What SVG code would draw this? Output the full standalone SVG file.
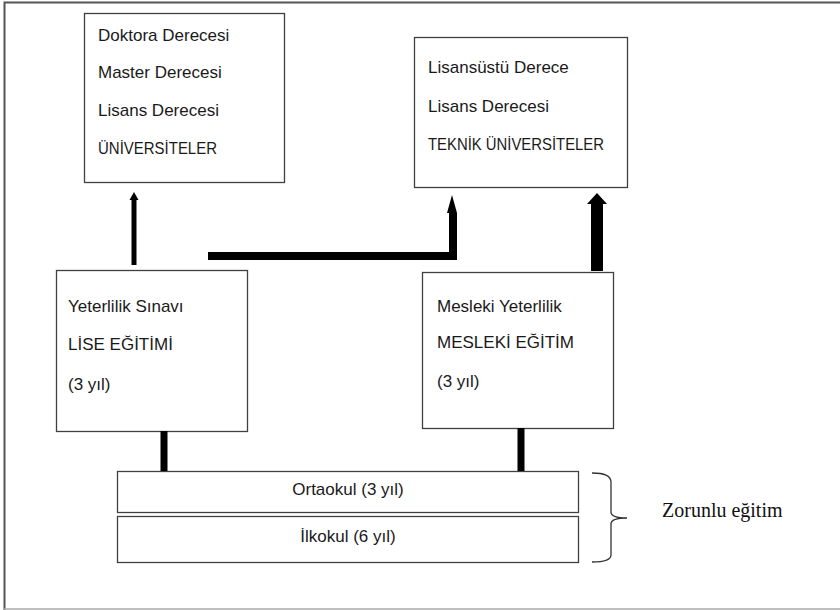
<svg xmlns="http://www.w3.org/2000/svg" width="840" height="610" viewBox="0 0 840 610">
<style>
.box{fill:#fff;stroke:#404040;stroke-width:1.3}
.t{font-family:"Liberation Sans",Arial,sans-serif;font-size:17px;fill:#1a1a1a}
.conn{fill:#000;stroke:none}
</style>
<rect x="0" y="0" width="840" height="610" fill="#fff"/>
<path d="M4.5 610 V2.5 H840" fill="none" stroke="#555" stroke-width="2"/>
<line x1="4" y1="609" x2="840" y2="609" stroke="#aaa" stroke-width="1.5"/>

<g id="universiteler">
<rect class="box" x="84.5" y="13.5" width="200" height="169"/>
<text class="t" x="98" y="41">Doktora Derecesi</text>
<text class="t" x="98" y="78">Master Derecesi</text>
<text class="t" x="98" y="116">Lisans Derecesi</text>
<text class="t" x="98" y="154" textLength="119" lengthAdjust="spacingAndGlyphs">ÜNİVERSİTELER</text>
</g>

<g id="teknik">
<rect class="box" x="414.5" y="37.5" width="213" height="150"/>
<text class="t" x="428" y="73">Lisansüstü Derece</text>
<text class="t" x="428" y="112">Lisans Derecesi</text>
<text class="t" x="428" y="150" textLength="176" lengthAdjust="spacingAndGlyphs">TEKNİK ÜNİVERSİTELER</text>
</g>

<g id="lise">
<rect class="box" x="56.5" y="270.5" width="191" height="161"/>
<text class="t" x="68" y="312">Yeterlilik Sınavı</text>
<text class="t" x="68" y="350">LİSE EĞİTİMİ</text>
<text class="t" x="68" y="390">(3 yıl)</text>
</g>

<g id="mesleki">
<rect class="box" x="422.5" y="272.5" width="191" height="156"/>
<text class="t" x="437" y="312">Mesleki Yeterlilik</text>
<text class="t" x="437" y="348">MESLEKİ EĞİTİM</text>
<text class="t" x="437" y="387">(3 yıl)</text>
</g>

<g id="ortaokul">
<rect class="box" x="117.5" y="471.5" width="461" height="41"/>
<text class="t" x="348" y="495" text-anchor="middle">Ortaokul (3 yıl)</text>
</g>

<g id="ilkokul">
<rect class="box" x="117.5" y="516.5" width="461" height="46"/>
<text class="t" x="348" y="542" text-anchor="middle">İlkokul (6 yıl)</text>
</g>

<g id="zorunlu">
<path d="M592 473 Q611 473 611 482 V512 Q611 518 627 518 Q611 518 611 524 V555 Q611 562 592 562" fill="none" stroke="#333" stroke-width="1.3"/>
<text x="662" y="517" font-family="Liberation Serif,'Times New Roman',serif" font-size="20px" fill="#111">Zorunlu eğitim</text>
</g>

<g id="connectors">
<path class="conn" d="M131.5 265 V200 H129.5 L134 192 L138.5 200 H136.5 V265 Z"/>
<path class="conn" d="M208 252 H449 V213 H447 L452 195 L457 213 H457 V260 H208 Z"/>
<path class="conn" d="M591 271 V204 H587 L597 193 L607 204 H603 V271 Z"/>
<rect class="conn" x="160.5" y="431" width="7" height="40"/>
<rect class="conn" x="517.5" y="428" width="7" height="43"/>
</g>
</svg>
